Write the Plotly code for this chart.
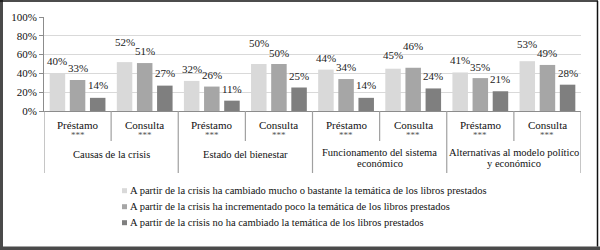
import plotly.graph_objects as go

# ---------------- data ----------------
groups = [
    ["Causas de la crisis"],
    ["Estado del bienestar"],
    ["Funcionamento del sistema", "económico"],
    ["Alternativas al modelo político", "y económico"],
]
subcats = ["Préstamo", "Consulta"]
signif = ["***"] * 8
series_names = [
    "A partir de la crisis ha cambiado mucho o bastante la temática de los libros prestados",
    "A partir de la crisis ha incrementado poco la temática de los libros prestados",
    "A partir de la crisis no ha cambiado la temática de los libros prestados",
]
mucho = [40, 52, 32, 50, 44, 45, 41, 53]
poco = [33, 51, 26, 50, 34, 46, 35, 49]
no_cambiado = [14, 27, 11, 25, 14, 24, 21, 28]
series_values = [mucho, poco, no_cambiado]

# label vertical offsets (px above bar top), mimicking the original layout
label_shift = [
    [12, 20, 12, 21, 12, 14, 12, 17],
    [12, 12, 12, 11, 12, 22, 11, 12],
    [13, 13, 12, 12, 13, 12, 12, 12],
]

colors = ["#d9d9d9", "#a6a6a6", "#7f7f7f"]
FONT = "Liberation Serif"

W, H = 600, 250
ML, MR, MT, MB = 44, 19, 17, 139
PW, PH = W - ML - MR, H - MT - MB


def px2x(px):
    return (px - ML) / PW


def py2y(py):
    return (H - MB - py) / PH


n = len(mucho)
xs = list(range(n))

fig = go.Figure()
for k, (name, vals, col) in enumerate(zip(series_names, series_values, colors)):
    fig.add_trace(go.Bar(x=xs, y=vals, name=name, marker=dict(color=col, line=dict(width=0)),
                         showlegend=False))

annotations = []
slot = 0.3
for k, vals in enumerate(series_values):
    for i, v in enumerate(vals):
        annotations.append(dict(x=i + (k - 1) * slot, y=v, xref="x", yref="y", text=f"{v}%",
                                showarrow=False, yanchor="middle", yshift=label_shift[k][i],
                                font=dict(family=FONT, size=11, color="#222")))

# sub-category labels
for i in xs:
    annotations.append(dict(x=i, y=py2y(125), xref="x", yref="paper", text=subcats[i % 2],
                            showarrow=False, yanchor="middle",
                            font=dict(family=FONT, size=11, color="#111")))
    annotations.append(dict(x=i, y=py2y(135), xref="x", yref="paper", text=signif[i],
                            showarrow=False, yanchor="middle",
                            font=dict(family=FONT, size=9, color="#555")))

# group labels
for g, lines in enumerate(groups):
    if len(lines) == 1:
        ys = [154]
    else:
        ys = [152.3, 163]
    for line, yy in zip(lines, ys):
        annotations.append(dict(x=2 * g + 0.5, y=py2y(yy), xref="x", yref="paper", text=line,
                                showarrow=False, yanchor="middle",
                                font=dict(family=FONT, size=10.5, color="#111")))

shapes = []
# table separators
for b in range(n + 1):
    xb = b - 0.5
    bottom = 173 if b % 2 == 0 else 141
    shapes.append(dict(type="line", xref="x", yref="paper", x0=xb, x1=xb, y0=0, y1=py2y(bottom),
                       line=dict(color="#a0a0a0", width=1.2)))

# manual legend
leg_y = [190.7, 206.7, 222.7]
for name, col, yy in zip(series_names, colors, leg_y):
    shapes.append(dict(type="rect", xref="paper", yref="paper", x0=px2x(122), x1=px2x(127),
                       y0=py2y(yy + 2.5), y1=py2y(yy - 2.5), fillcolor=col, line=dict(width=0)))
    annotations.append(dict(x=px2x(127.5), y=py2y(yy), xref="paper", yref="paper", text=name,
                            showarrow=False, xanchor="left", yanchor="middle",
                            font=dict(family=FONT, size=10.5, color="#111")))

# outer frame
shapes += [
    dict(type="rect", xref="paper", yref="paper", x0=px2x(0), x1=px2x(3), y0=py2y(250), y1=py2y(0),
         fillcolor="#4a4a4a", line=dict(width=0)),
    dict(type="rect", xref="paper", yref="paper", x0=px2x(0), x1=px2x(600), y0=py2y(250), y1=py2y(246.5),
         fillcolor="#4a4a4a", line=dict(width=0)),
    dict(type="line", xref="paper", yref="paper", x0=px2x(0), x1=px2x(598), y0=py2y(1), y1=py2y(1),
         line=dict(color="#111", width=1.5)),
    dict(type="line", xref="paper", yref="paper", x0=px2x(597.5), x1=px2x(597.5), y0=py2y(246.5), y1=py2y(1),
         line=dict(color="#111", width=1.5)),
]

fig.update_layout(
    width=W, height=H, autosize=False,
    margin=dict(l=ML, r=MR, t=MT, b=MB, pad=0),
    plot_bgcolor="white", paper_bgcolor="white",
    barmode="group", bargap=0.1, bargroupgap=0.23,
    annotations=annotations, shapes=shapes,
    font=dict(family=FONT, size=11, color="#111"),
    xaxis=dict(range=[-0.5, n - 0.5], showticklabels=False, showgrid=False, zeroline=False,
               showline=True, linecolor="#8c8c8c", linewidth=1.2, ticks=""),
    yaxis=dict(range=[0, 100], dtick=20, ticksuffix="%", showgrid=True, gridcolor="#d9d9d9",
               gridwidth=1, zeroline=False, showline=True, linecolor="#8c8c8c", linewidth=1,
               ticks="outside", ticklen=4, tickcolor="#8c8c8c",
               tickfont=dict(family=FONT, size=11, color="#111")),
    showlegend=False,
)

fig.write_html("out.html")
